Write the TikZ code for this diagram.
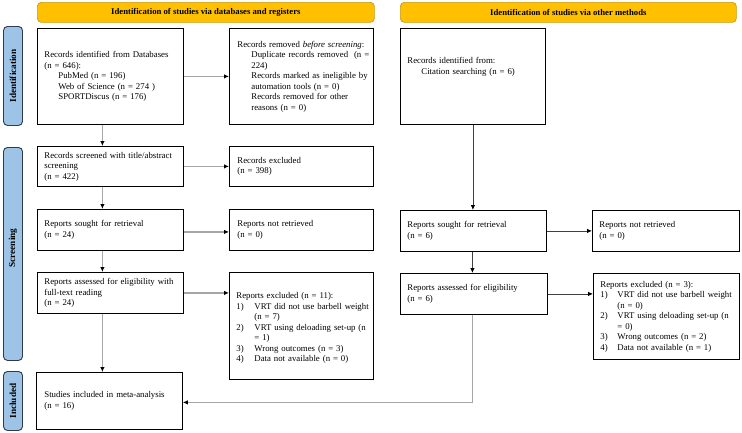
\documentclass[tikz,border=0pt]{standalone}
\usepackage{fontspec}
\setmainfont{Liberation Serif}
\usetikzlibrary{arrows.meta}
\definecolor{hdrfill}{HTML}{FFC000}
\definecolor{hdrdraw}{HTML}{C99A10}
\definecolor{sidefill}{HTML}{9DC3E6}
\definecolor{sidedraw}{HTML}{2F3B4C}
\definecolor{grayline}{HTML}{A6A6A6}
\definecolor{darkline}{HTML}{404040}
\newcommand\bxind{\hspace*{14pt}}
\newcommand\bxnum[1]{\makebox[18pt][l]{#1}}
\newcommand\bxnumb[1]{\makebox[17pt][l]{#1}}
\newcommand\bxcont{\hspace*{18pt}}
\newcommand\bxcontb{\hspace*{17pt}}
\tikzset{
  box/.style 2 args={draw, line width=0.8pt, anchor=north west, minimum width=#1pt, minimum height=#2pt,
    text width=#1pt, inner xsep=0pt, inner ysep=0pt, align=left},
  hdr/.style={draw=hdrdraw, fill=hdrfill, line width=0.7pt, rounded corners=4pt, anchor=north west,
    minimum height=20pt, inner sep=0pt, font=\fontsize{8.7}{10}\selectfont\bfseries},
  side/.style={draw=sidedraw, fill=sidefill, line width=0.9pt, rounded corners=4pt,
    minimum width=19pt, inner sep=0pt},
  sidetxt/.style={rotate=90, font=\fontsize{9.2}{10}\selectfont\bfseries},
  garr/.style={draw=grayline, line width=1.2pt, -{Latex[length=5pt,width=4.5pt,color=black]}},
  darr/.style={draw=darkline, line width=0.8pt, -{Latex[length=5pt,width=4.5pt,color=black]}},
}
\begin{document}
\begin{tikzpicture}[x=1pt,y=-1pt, every node/.style={font=\fontsize{8.8}{10.5}\selectfont}]
\useasboundingbox (0,0) rectangle (742,432);

% headers
\node[hdr, minimum width=337pt] (h1) at (37,2) {Identification of studies via databases and registers};
\node[hdr, minimum width=336pt] (h2) at (400,2) {Identification of studies via other methods};

% side labels
\node[side, minimum height=99pt, anchor=north] (sid) at (13,26) {};
\node[sidetxt] (sidt) at (sid.center) {Identification};
\node[side, minimum height=213pt, anchor=north] (sscr) at (13,147) {};
\node[sidetxt] (sscrt) at ([yshift=6pt]sscr.center) {Screening};
\node[side, minimum height=59pt, anchor=north] (sinc) at (13,371) {};
\node[sidetxt] (sinct) at (sinc.center) {Included};

% left column
\node[box={146}{96}] (db) at (37,28) {\leftskip=7pt Records identified from Databases\\ (n = 646):\\ \bxind PubMed (n = 196)\\ \bxind Web of Science (n = 274 )\\ \bxind SPORTDiscus (n = 176)\par};
\node[box={144}{96}] (rem) at (229,28) {\leftskip=8pt Records removed \textit{before screening}:\\ \bxind Duplicate records removed~ (n =\\ \bxind 224)\\ \bxind Records marked as ineligible by\\ \bxind automation tools (n = 0)\\ \bxind Records removed for other\\ \bxind reasons (n = 0)\par};
\node[box={146}{40}] (scr) at (37,146) {\leftskip=7pt Records screened with title/abstract\\ screening\\ (n = 422)\par};
\node[box={144}{40}] (exc1) at (229,146) {\leftskip=8pt Records excluded\\ (n = 398)\par};
\node[box={146}{41}] (sou1) at (37,209) {\leftskip=7pt Reports sought for retrieval\\ (n = 24)\par};
\node[box={144}{41}] (nrt1) at (229,209) {\leftskip=8pt Reports not retrieved\\ (n = 0)\par};
\node[box={146}{41}] (ass1) at (37,272) {\leftskip=7pt Reports assessed for eligibility with\\ full-text reading\\ (n = 24)\par};
\node[box={144}{107}] (exc2) at (229,272) {\leftskip=7pt \mbox{}\\ Reports excluded (n = 11):\\ \bxnum{1)}VRT did not use barbell weight\\ \bxcont(n = 7)\\ \bxnum{2)}VRT using deloading set-up (n\\ \bxcont= 1)\\ \bxnum{3)}Wrong outcomes (n = 3)\\ \bxnum{4)}Data not available (n = 0)\par};
\node[box={146}{57}] (inc) at (36,372) {\leftskip=8pt Studies included in meta-analysis\\ (n = 16)\par};

% right column
\node[box={145}{96}] (oth) at (400,28) {\leftskip=7pt Records identified from:\\ \bxind Citation searching (n = 6)\\ \mbox{}\\ \mbox{}\par};
\node[box={146}{41}] (sou2) at (400,210) {\leftskip=7pt Reports sought for retrieval\\ (n = 6)\par};
\node[box={147}{41}] (nrt2) at (592,210) {\leftskip=7pt Reports not retrieved\\ (n = 0)\par};
\node[box={147}{41}] (ass2) at (400,273) {\leftskip=7pt Reports assessed for eligibility\\ (n = 6)\par};
\node[box={146}{86}] (exc3) at (593,273) {\leftskip=7pt Reports excluded (n = 3):\\ \bxnumb{1)}VRT did not use barbell weight\\ \bxcontb(n = 0)\\ \bxnumb{2)}VRT using deloading set-up (n\\ \bxcontb= 0)\\ \bxnumb{3)}Wrong outcomes (n = 2)\\ \bxnumb{4)}Data not available (n = 1)\par};

% arrows left column
\draw[garr] (db.east) -- (rem.west);
\draw[garr] ([xshift=-8pt]db.south) -- ([xshift=-8pt]db.south |- scr.north);
\draw[garr] (scr.east) -- (exc1.west);
\draw[garr] ([xshift=-8pt]scr.south) -- ([xshift=-8pt]scr.south |- sou1.north);
\draw[garr] ([yshift=-2pt]sou1.east) -- ([yshift=-2pt]sou1.east -| nrt1.west);
\draw[garr] ([xshift=-8pt]sou1.south) -- ([xshift=-8pt]sou1.south |- ass1.north);
\draw[garr] (ass1.east) -- (ass1.east -| exc2.west);
\draw[garr] ([xshift=-8pt]ass1.south) -- ([xshift=-8pt]ass1.south |- inc.north);

% arrows right column
\draw[darr] (oth.south) -- (oth.south |- sou2.north);
\draw[darr] (sou2.east) -- (sou2.east -| nrt2.west);
\draw[darr] ([xshift=-1pt]sou2.south) -- ([xshift=-1pt]sou2.south |- ass2.north);
\draw[darr] (ass2.east) -- (ass2.east -| exc3.west);
\draw[garr] ([xshift=-1.5pt]ass2.south) |- ([yshift=-1.5pt]inc.east);
\end{tikzpicture}
\end{document}
